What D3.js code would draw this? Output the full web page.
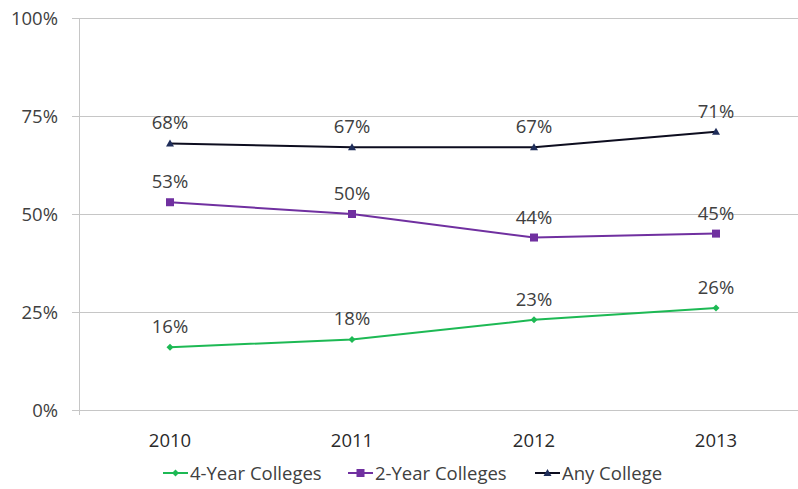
<!DOCTYPE html>
<html><head><meta charset="utf-8">
<script src="https://cdn.jsdelivr.net/npm/d3@7"></script>
<style>body{margin:0;background:#fff;}svg{display:block;font-family:"Open Sans","Liberation Sans",sans-serif;}</style>
</head><body>
<svg id="c" width="798" height="489"></svg>
<script>
const years = ["2010","2011","2012","2013"];
const fourYear = [16,18,23,26];
const twoYear = [53,50,44,45];
const anyCollege = [68,67,67,71];
const yTicks = [0,25,50,75,100];
const seriesNames = ["4-Year Colleges","2-Year Colleges","Any College"];
const seriesColors = ["#1db954","#7030a0","#0d0d1f"];
const seriesMarkers = ["diamond","square","triangle"];
const seriesData = [fourYear, twoYear, anyCollege];

(function(){
const svg = d3.select("#c");
const fs = 18.5;
const pLeft = 79, pTop = 18, pBottom = 410, bandW = 182;
const x = d3.scaleBand().domain(years).range([pLeft, pLeft + bandW*years.length]);
const y = d3.scaleLinear().domain([0,100]).range([pBottom, pTop]);

svg.append("g").selectAll("line").data(yTicks).join("line")
  .attr("x1", pLeft-7).attr("x2", 798).attr("y1", d=>Math.round(y(d))+0.5).attr("y2", d=>Math.round(y(d))+0.5)
  .attr("stroke","#c6c6c6").attr("stroke-width",1);
svg.append("line").attr("x1",pLeft+0.5).attr("x2",pLeft+0.5).attr("y1",pTop).attr("y2",pBottom+5)
  .attr("stroke","#c6c6c6");
svg.append("g").selectAll("text").data(yTicks).join("text")
  .attr("x", 58).attr("y", d=>y(d)+6.5).attr("text-anchor","end")
  .attr("font-size",fs).attr("fill","#404040").text(d=>d+"%");
svg.append("g").selectAll("text").data(years).join("text")
  .attr("x", d=>x(d)+x.bandwidth()/2).attr("y", 447).attr("text-anchor","middle")
  .attr("font-size",fs).attr("fill","#2a2a2a").text(d=>d);

function marker(g, type, cx, cy, color){
  if(type==="square") g.append("rect").attr("x",cx-4).attr("y",cy-4).attr("width",8).attr("height",8).attr("fill",color);
  else if(type==="diamond") g.append("path").attr("d",`M${cx},${cy-3.5}L${cx+3.5},${cy}L${cx},${cy+3.5}L${cx-3.5},${cy}Z`).attr("fill",color);
  else g.append("path").attr("d",`M${cx},${cy-4}L${cx+4},${cy+3}L${cx-4},${cy+3}Z`).attr("fill","#1f2d5a");
}

const line = d3.line().x((d,i)=>x(years[i])+x.bandwidth()/2).y(d=>y(d));
seriesData.forEach((data,si)=>{
  const g = svg.append("g");
  g.append("path").datum(data).attr("d",line).attr("fill","none")
    .attr("stroke",seriesColors[si]).attr("stroke-width",2);
  data.forEach((v,i)=>{
    const cx = x(years[i])+x.bandwidth()/2, cy = y(v);
    marker(g, seriesMarkers[si], cx, cy, seriesColors[si]);
    g.append("text").attr("x",cx).attr("y",cy-14).attr("text-anchor","middle")
      .attr("font-size",fs).attr("fill","#404040").text(v+"%");
  });
});

const legX = [163, 348, 535];
seriesNames.forEach((n,i)=>{
  const g = svg.append("g");
  g.append("line").attr("x1",legX[i]).attr("x2",legX[i]+25).attr("y1",473).attr("y2",473)
    .attr("stroke",seriesColors[i]).attr("stroke-width",2);
  marker(g, seriesMarkers[i], legX[i]+12.5, 473, seriesColors[i]);
  g.append("text").attr("x",legX[i]+27).attr("y",480).attr("font-size",fs)
    .attr("fill","#404040").text(n);
});
})();
</script>
</body></html>
